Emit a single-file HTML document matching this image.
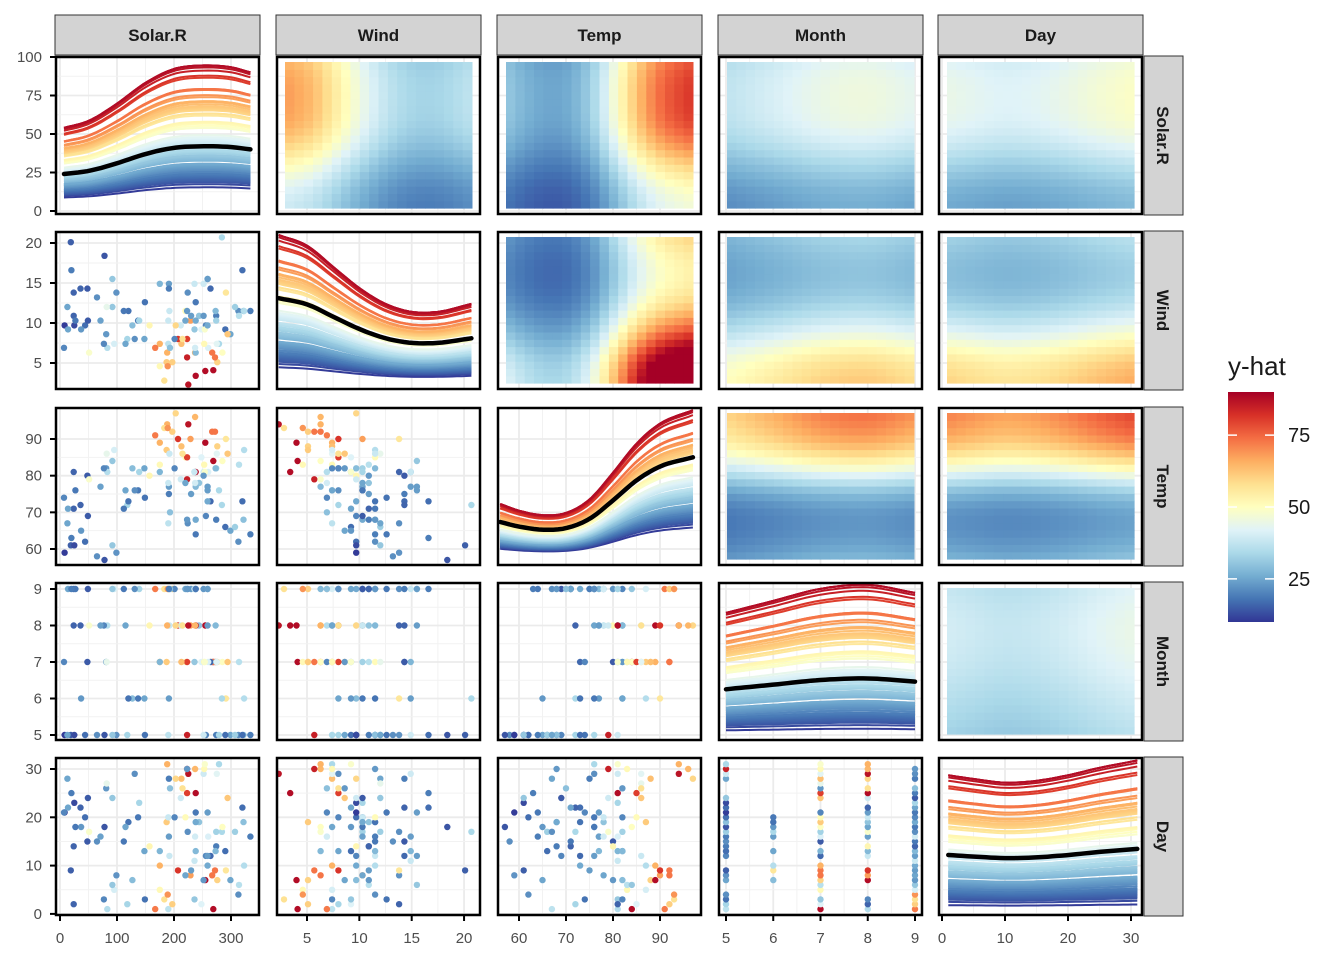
<!DOCTYPE html>
<html><head><meta charset="utf-8"><style>
body{margin:0;background:#fff;}
svg{display:block;font-family:"Liberation Sans",Arial,sans-serif;}
</style></head><body>
<svg id="chart" width="1344" height="960" viewBox="0 0 1344 960"></svg>
<script>
// ---- data (airquality-like observations): ozone, Solar.R, Wind, Temp, Month, Day
const obsRows=[
[41,190,7.4,67,5,1],[36,118,8.0,72,5,2],[12,149,12.6,74,5,3],[18,313,11.5,62,5,4],[23,299,8.6,65,5,7],
[19,99,13.8,59,5,8],[8,19,20.1,61,5,9],[16,256,9.7,69,5,12],[11,290,9.2,66,5,13],[14,274,10.9,68,5,14],
[18,65,13.2,58,5,15],[14,334,11.5,64,5,16],[34,307,12.0,66,5,17],[6,78,18.4,57,5,18],[30,322,11.5,68,5,19],
[11,44,9.7,62,5,20],[1,8,9.7,59,5,21],[11,320,16.6,73,5,22],[4,25,9.7,61,5,23],[32,92,12.0,61,5,24],
[23,13,12.0,67,5,28],[45,252,14.9,81,5,29],[115,223,5.7,79,5,30],[37,279,7.4,76,5,31],
[29,127,9.7,82,6,7],[71,291,13.8,90,6,9],[39,323,11.5,87,6,10],[23,148,8.0,82,6,13],[21,191,14.9,77,6,16],
[37,284,20.7,72,6,17],[20,37,9.2,65,6,18],[12,120,11.5,73,6,19],[13,137,10.3,76,6,20],
[135,269,4.1,84,7,1],[49,248,9.2,85,7,2],[32,236,9.2,81,7,3],[64,175,4.6,83,7,5],[40,314,10.9,83,7,6],
[77,276,5.1,88,7,7],[97,267,6.3,92,7,8],[97,272,5.7,92,7,9],[85,175,7.4,89,7,10],[10,264,14.3,73,7,12],
[27,175,14.9,81,7,13],[7,48,14.3,80,7,15],[48,260,6.9,81,7,16],[35,274,10.3,82,7,17],[61,285,6.3,84,7,18],
[79,187,5.1,87,7,19],[63,220,11.5,85,7,20],[16,7,6.9,74,7,21],[80,294,8.6,86,7,24],[108,223,8.0,85,7,25],
[20,81,8.6,82,7,26],[52,82,12.0,86,7,27],[82,213,7.4,88,7,28],[50,275,7.4,86,7,29],[64,253,7.4,83,7,30],
[59,254,9.2,81,7,31],[39,83,6.9,81,8,1],[9,24,13.8,81,8,2],[16,77,7.4,82,8,3],[122,255,4.0,89,8,7],
[89,229,10.3,90,8,8],[110,207,8.0,90,8,9],[44,192,11.5,86,8,12],[28,273,11.5,82,8,13],[65,157,9.7,80,8,14],
[22,71,10.3,77,8,16],[59,51,6.3,79,8,17],[23,115,7.4,76,8,18],[31,244,10.9,78,8,19],[44,190,10.3,78,8,20],
[21,259,15.5,77,8,21],[9,36,14.3,72,8,22],[45,212,9.7,79,8,24],[168,238,3.4,81,8,25],[73,215,8.0,86,8,26],
[76,203,9.7,97,8,28],[118,225,2.3,94,8,29],[84,237,6.3,96,8,30],[85,188,6.3,94,8,31],[96,167,6.9,91,9,1],
[78,197,5.1,92,9,2],[73,183,2.8,93,9,3],[91,189,4.6,93,9,4],[47,95,7.4,87,9,5],[32,92,15.5,84,9,6],
[20,252,10.9,80,9,7],[23,220,10.3,78,9,8],[21,230,10.9,75,9,9],[24,259,9.7,73,9,10],[44,236,14.9,81,9,11],
[21,259,15.5,76,9,12],[28,238,6.3,77,9,13],[9,24,10.9,71,9,14],[13,112,11.5,71,9,15],[46,237,6.9,78,9,16],
[18,224,13.8,67,9,17],[13,27,10.3,76,9,18],[24,238,10.3,68,9,19],[16,201,8.0,82,9,20],[13,238,12.6,64,9,21],
[23,14,9.2,71,9,22],[36,139,10.3,81,9,23],[7,49,10.3,69,9,24],[14,20,16.6,63,9,25],[30,193,6.9,70,9,26],
[14,191,14.3,75,9,28],[18,131,8.0,76,9,29],[20,223,11.5,68,9,30]
];
// partial dependence curves (black lines)
const pdSolarX=[7,50,100,150,200,250,300,334];
const pdSolarY=[24,26,31,37,41,42,41.5,40];
const pdWindX=[2.3,5,7.5,10,12.5,15,17.5,20.7];
const pdWindY=[57,53,45,37,31,28,28,31];
const pdTempX=[56,60,65,70,75,80,85,90,97];
const pdTempY=[26,23,21,22,28,40,53,62,68];
const pdMonthX=[5,6,7,8,9];
const pdMonthY=[31,34,37,38,36];
const pdDayX=[1,5,10,15,20,25,31];
const pdDayY=[37,36,35,35.5,37,39,41];
// ICE spread (multiplier of pd for lowest / highest observation)
const iceKMin=[0.35,0.2,0.32,0.12,0.1];
const iceKMax=[2.25,1.72,1.45,2.6,2.4];
const legendTicks=[25,50,75];
const varNames=["Solar.R","Wind","Temp","Month","Day"];
const xTickLabels=[[0,100,200,300],[5,10,15,20],[60,70,80,90],[5,6,7,8,9],[0,10,20,30]];
const yTickLabels=[[0,25,50,75,100],[5,10,15,20],[60,70,80,90],[5,6,7,8,9],[0,10,20,30]];

// ---- layout
const NS="http://www.w3.org/2000/svg";
const svg=document.getElementById("chart");
const colL=[55,276,497,718,938], rowT=[56,231,407,582,757], PW=205, PH=159;
const PD=[[pdSolarX,pdSolarY],[pdWindX,pdWindY],[pdTempX,pdTempY],[pdMonthX,pdMonthY],[pdDayX,pdDayY]];
const ranges=[[7,334],[2.3,20.7],[56,97],[5,9],[1,31]];
const xs=[c=>v=>colL[c]+5+v*0.57, c=>v=>colL[c]+31+(v-5)*10.47, c=>v=>colL[c]+22+(v-60)*4.7,
          c=>v=>colL[c]+8+(v-5)*47.25, c=>v=>colL[c]+4+v*6.3];
const ys=[r=>v=>rowT[r]+155-v*1.54, r=>v=>rowT[r]+12+(20-v)*8, r=>v=>rowT[r]+32+(90-v)*3.667,
          r=>v=>rowT[r]+7+(9-v)*36.5, r=>v=>rowT[r]+12+(30-v)*4.83];
const yhatY=r=>v=>rowT[r]+155-v*1.54;

function el(tag,attrs,parent){const e=document.createElementNS(NS,tag);for(const k in attrs)e.setAttribute(k,attrs[k]);(parent||svg).appendChild(e);return e;}
function interp(X,Y,x){const n=X.length;x=Math.max(X[0],Math.min(X[n-1],x));let k=0;while(k<n-2&&x>X[k+1])k++;
 const sec=i=>(Y[i+1]-Y[i])/(X[i+1]-X[i]);
 const m=i=>i===0?sec(0):(i===n-1?sec(n-2):0.5*(sec(i-1)+sec(i)));
 const h=X[k+1]-X[k],t=(x-X[k])/h,t2=t*t,t3=t2*t;
 return (2*t3-3*t2+1)*Y[k]+(t3-2*t2+t)*h*m(k)+(-2*t3+3*t2)*Y[k+1]+(t3-t2)*h*m(k+1);}
const stops=["#313695","#4575b4","#74add1","#abd9e9","#e0f3f8","#ffffbf","#fee090","#fdae61","#f46d43","#d73027","#a50026"];
function hex(h){return [1,3,5].map(i=>parseInt(h.substr(i,2),16));}
function color(v){let t=(v-10)/80;t=Math.max(0,Math.min(1,t));const p=t*(stops.length-1),i=Math.min(stops.length-2,Math.floor(p)),f=p-i;
 const a=hex(stops[i]),b=hex(stops[i+1]);return "rgb("+a.map((x,j)=>Math.round(x+(b[j]-x)*f)).join(",")+")";}
const vOf=o=>Math.max(10,Math.min(88,o*0.65+10));

const defs=el("defs",{});
for(let r=0;r<5;r++)for(let c=0;c<5;c++){const cp=el("clipPath",{id:"cp"+r+c},defs);el("rect",{x:colL[c],y:rowT[r],width:PW,height:PH},cp);}

for(let r=0;r<5;r++)for(let c=0;c<5;c++){
 const g=el("g",{"clip-path":"url(#cp"+r+c+")"});
 
 
 el("rect",{x:colL[c],y:rowT[r],width:PW,height:PH,fill:"#fff"},g);
 const X=xs[c](c), Y=r===0?yhatY(0):ys[r](r);
 const xt=xTickLabels[c], yt=yTickLabels[r];
 for(let i=0;i<xt.length;i++){el("line",{x1:X(xt[i]),x2:X(xt[i]),y1:rowT[r],y2:rowT[r]+PH,stroke:"#ebebeb","stroke-width":1.8},g);
   if(i<xt.length-1){const m=(xt[i]+xt[i+1])/2;el("line",{x1:X(m),x2:X(m),y1:rowT[r],y2:rowT[r]+PH,stroke:"#f2f2f2","stroke-width":1},g);}}
 for(let i=0;i<yt.length;i++){el("line",{y1:Y(yt[i]),y2:Y(yt[i]),x1:colL[c],x2:colL[c]+PW,stroke:"#ebebeb","stroke-width":1.8},g);
   if(i<yt.length-1){const m=(yt[i]+yt[i+1])/2;el("line",{y1:Y(m),y2:Y(m),x1:colL[c],x2:colL[c]+PW,stroke:"#f2f2f2","stroke-width":1},g);}}
 if(r===c){
  const HY=yhatY(r),[px,py]=PD[c];
  const sorted=obsRows.slice().sort((a,b)=>vOf(a[0])-vOf(b[0]));
  const N=40,[lo,hi]=ranges[c];
  sorted.forEach(o=>{const v=vOf(o[0]);const k=iceKMin[c]+(v-10)/78*(iceKMax[c]-iceKMin[c]);let d="";
   for(let s=0;s<=N;s++){const x=lo+(hi-lo)*s/N;d+=(s?"L":"M")+X(x).toFixed(1)+","+HY(k*interp(px,py,x)).toFixed(1);}
   const p=el("path",{d:d,fill:"none",stroke:color(v),"stroke-width":2},g);
   
   });
  let d="";for(let s=0;s<=N;s++){const x=lo+(hi-lo)*s/N;d+=(s?"L":"M")+X(x).toFixed(1)+","+HY(interp(px,py,x)).toFixed(1);}
  const pdl=el("path",{d:d,fill:"none",stroke:"#000","stroke-width":4.5,"stroke-linecap":"round"},g);
  
  
 } else if(c>r){
  const NC=20,[xl,xh]=ranges[c],[yl,yh]=ranges[r];
  const HX0=colL[c]+9,HX1=colL[c]+PW-9,HY0=rowT[r]+6,HY1=rowT[r]+PH-7;
  const cw=(HX1-HX0)/NC,ch=(HY1-HY0)/NC;
  for(let i=0;i<NC;i++)for(let j=0;j<NC;j++){
   const xv=xl+(i+0.5)/NC*(xh-xl),yv=yl+(j+0.5)/NC*(yh-yl);
   const val=interp(PD[r][0],PD[r][1],yv)*interp(PD[c][0],PD[c][1],xv)/35;
   const cell=el("rect",{x:(HX0+i*cw).toFixed(1),y:(HY1-(j+1)*ch).toFixed(1),width:(cw+0.6).toFixed(1),height:(ch+0.6).toFixed(1),fill:color(val)},g);
   
   }
 } else {
  obsRows.forEach(o=>{const pt=el("circle",{cx:X(o[c+1]).toFixed(1),cy:Y(o[r+1]).toFixed(1),r:3.2,fill:color(vOf(o[0]))},g);
   
   });
 }
 el("rect",{x:colL[c]+1,y:rowT[r]+1,width:PW-2,height:PH-2,fill:"none",stroke:"#000","stroke-width":2.5});
}
for(let c=0;c<5;c++){const s=el("rect",{x:colL[c],y:15,width:PW,height:40,fill:"#d3d3d3",stroke:"#333","stroke-width":1});
 
 
 const t=el("text",{x:colL[c]+PW/2,y:41,"text-anchor":"middle","font-size":17,"font-weight":"bold",fill:"#1a1a1a"});t.textContent=varNames[c];}
for(let r=0;r<5;r++){const s=el("rect",{x:1144,y:rowT[r],width:39,height:PH,fill:"#d3d3d3",stroke:"#333","stroke-width":1});
 
 
 const cy=rowT[r]+PH/2;const t=el("text",{x:1157,y:cy,"text-anchor":"middle","font-size":17,"font-weight":"bold",fill:"#1a1a1a",transform:"rotate(90 1157 "+cy+")"});t.textContent=varNames[r];}
for(let r=0;r<5;r++){const Y=r===0?yhatY(0):ys[r](r);
 yTickLabels[r].forEach(v=>{el("line",{x1:colL[0]-5,x2:colL[0],y1:Y(v),y2:Y(v),stroke:"#000","stroke-width":2});
  const t=el("text",{x:42,y:Y(v)+5,"text-anchor":"end","font-size":15,fill:"#4d4d4d"});t.textContent=v;
  
  });}
for(let c=0;c<5;c++){const X=xs[c](c);
 xTickLabels[c].forEach(v=>{el("line",{x1:X(v),x2:X(v),y1:916,y2:921,stroke:"#000","stroke-width":2});
  const t=el("text",{x:X(v),y:943,"text-anchor":"middle","font-size":15,fill:"#4d4d4d"});t.textContent=v;
  
  });}
const lt=el("text",{x:1228,y:375,"font-size":26,fill:"#1a1a1a"});lt.textContent="y-hat";

const lg=el("linearGradient",{id:"lgrad",x1:0,y1:1,x2:0,y2:0},defs);
stops.forEach((s,i)=>el("stop",{offset:i/(stops.length-1),"stop-color":s},lg));
const lb=el("rect",{x:1228,y:392,width:46,height:230,fill:"url(#lgrad)"});

const ly=v=>622-(v-10)*2.875;
legendTicks.forEach(v=>{el("line",{x1:1228,x2:1237,y1:ly(v),y2:ly(v),stroke:"#fff","stroke-width":1.5});
 el("line",{x1:1265,x2:1274,y1:ly(v),y2:ly(v),stroke:"#fff","stroke-width":1.5});
 const t=el("text",{x:1288,y:ly(v)+7,"font-size":20,fill:"#1a1a1a"});t.textContent=v;
 });
</script>
</body></html>
